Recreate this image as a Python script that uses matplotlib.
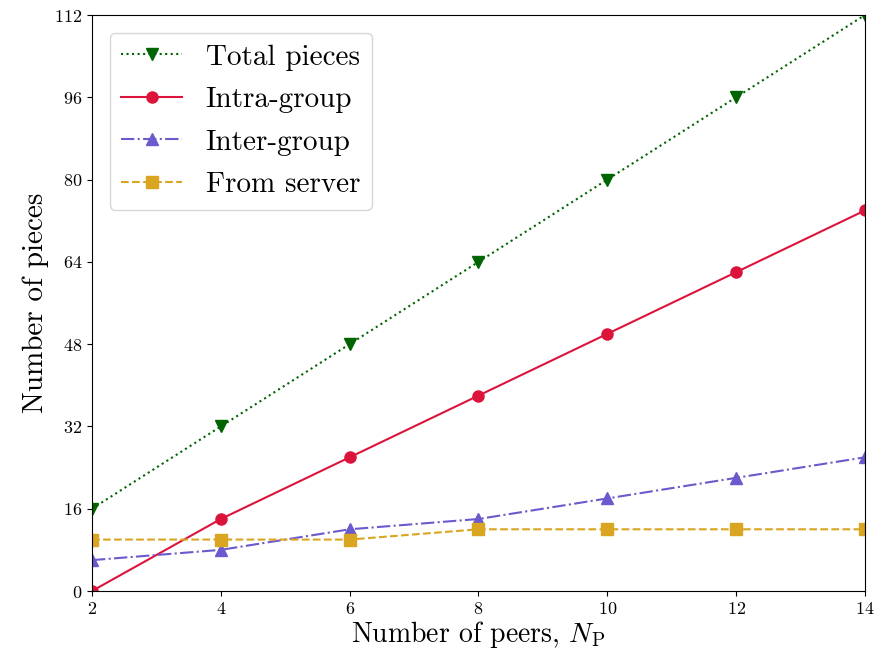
import numpy as np
import matplotlib
matplotlib.use("Agg")
import matplotlib.pyplot as plt

plt.rcParams["font.family"] = "serif"
plt.rcParams["font.serif"] = ["cmr10"]
plt.rcParams["mathtext.fontset"] = "cm"
plt.rcParams["axes.formatter.use_mathtext"] = True

peers = [2, 4, 6, 8, 10, 12, 14]
total = [16, 32, 48, 64, 80, 96, 112]
intra = [0, 14, 26, 38, 50, 62, 74]
inter = [6, 8, 12, 14, 18, 22, 26]
server = [10, 10, 10, 12, 12, 12, 12]

fig = plt.figure(figsize=(8.77, 6.57), dpi=100)
ax = fig.add_axes([92 / 877, 66 / 657, 773 / 877, 576 / 657])

ax.plot(peers, total, ':', color='darkgreen', marker='v', ms=8, lw=1.5, label='Total pieces')
ax.plot(peers, intra, '-', color='crimson', marker='o', ms=8, lw=1.5, label='Intra-group')
ax.plot(peers, inter, '-.', color='slateblue', marker='^', ms=8, lw=1.5, label='Inter-group')
ax.plot(peers, server, '--', color='goldenrod', marker='s', ms=8, lw=1.5, label='From server')

ax.set_xlim(2, 14)
ax.set_ylim(0, 112)
ax.set_xticks(peers)
ax.set_yticks(np.arange(0, 113, 16))
ax.tick_params(labelsize=13)
ax.set_xlabel(r'Number of peers, $N_{\mathrm{P}}$', fontsize=20, labelpad=2)
ax.set_ylabel('Number of pieces', fontsize=21)
ax.legend(loc='upper left', fontsize=21, handlelength=2.1, labelspacing=0.55,
          borderaxespad=0.6)

fig.savefig('out.png', dpi=100)
